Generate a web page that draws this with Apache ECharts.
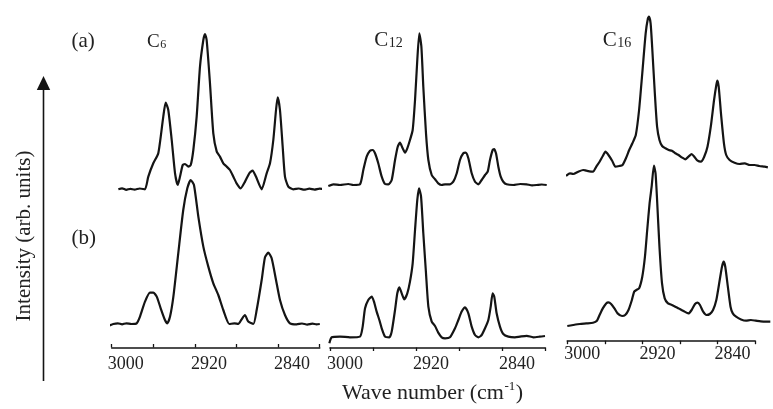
<!DOCTYPE html>
<html><head><meta charset="utf-8">
<script src="https://cdn.jsdelivr.net/npm/echarts@6/dist/echarts.min.js"></script>
<style>html,body{margin:0;padding:0;background:#fff}#c{width:773px;height:409px}</style>
</head><body><div id="c"></div>
<script>
// ---------- data ----------
const tickLabels = [3000, 2920, 2840];
const panelNames = [['C', '6'], ['C', '12'], ['C', '16']];
const rowNames = ['(a)', '(b)'];
const xTitle = ['Wave number (cm', '-1', ')'];
const yTitle = 'Intensity (arb. units)';

// [wave number, intensity]  (a) = upper trace, (b) = lower trace
const c6a = [[2993.6,0],[2990,1],[2986,-0.5],[2982,0.5],[2978,-0.3],[2973,0.8],[2968,0],[2964.8,12.7],[2960,26],[2955.2,36],[2950.4,72.7],[2948.1,86.7],[2945.6,79.3],[2942.3,49.3],[2939.1,16],[2936.5,4.3],[2934.3,12.7],[2931.7,24.3],[2929.5,25.3],[2926.3,22.7],[2924,24.3],[2921.5,39.3],[2918.3,72.7],[2915.1,122.7],[2911.9,149.3],[2910.3,155.3],[2908.7,149.3],[2905.5,106],[2902.3,56],[2899,37.7],[2895.9,32.7],[2892.7,26],[2889.4,22.7],[2886.3,19.3],[2883.1,12.7],[2879.9,6],[2876,1],[2871.8,7.7],[2867.7,16],[2864.5,18.7],[2861.3,12.7],[2855.8,0],[2851,16],[2847.8,26],[2844.6,49.3],[2842,79.3],[2840.4,92],[2838.2,79.3],[2835.6,42.7],[2833.4,12.7],[2830.2,2.7],[2825.4,0],[2820,0.8],[2815,-0.4],[2810,0.6],[2805,-0.3],[2800,0.7],[2796,0],[2793.3,0]];
const c6b = [[3003.3,-1.7],[2998.5,0.3],[2994,1],[2990,0],[2986,1],[2981,0.3],[2976,1],[2972.8,7.7],[2968,22.7],[2963.2,31.7],[2960,31.7],[2956.7,27.7],[2952.9,16],[2948.8,4.3],[2946.5,1],[2943.9,7.7],[2940.7,27.7],[2936,71],[2931.2,114.3],[2927.3,136],[2924,144.3],[2920.9,139.3],[2916.7,107.7],[2911.9,77.7],[2907.1,57.7],[2902.3,41],[2897.5,29.3],[2892.7,14.3],[2886.9,0.3],[2882,1],[2878.3,0.3],[2875.1,5],[2871.9,9.3],[2868.7,2.7],[2863.8,0.3],[2860.6,14.3],[2855.8,44.3],[2852.6,67],[2849.4,71.7],[2846.2,66],[2842,44.3],[2838.2,24.3],[2833.4,9.3],[2828.6,1],[2822.2,0],[2817,0.8],[2812,-0.3],[2807,0.6],[2803,0],[2799.9,0.3]];
const c12a = [[3001.6,-1],[2996.9,0.7],[2990.7,0],[2983,1],[2978.3,0],[2972.1,0.7],[2969,15],[2965.9,28.3],[2962.8,34.3],[2960.3,35],[2958.1,31.7],[2955.1,21.7],[2951.9,8.3],[2948.8,1],[2945.7,0.7],[2942.6,5],[2939.5,25],[2937,38.3],[2934.9,42.3],[2932.4,36.7],[2930.2,32.3],[2928.1,36.7],[2925.6,45],[2923.1,55],[2920.9,85],[2918.8,125],[2916.9,151.7],[2915,138.3],[2913.2,98.3],[2910.7,51.7],[2908.5,25],[2905.4,10],[2902.3,5.7],[2899.3,1.7],[2896.1,0],[2893,0.7],[2888.4,0.7],[2885.3,3.3],[2882.1,11.7],[2879.1,25],[2876,31.7],[2873.8,32.3],[2871.3,26.7],[2868.2,11.7],[2865.1,3.3],[2862,0.7],[2858.9,5],[2855.8,10],[2853.3,13.3],[2851.2,25],[2848.7,35],[2847.4,36],[2845.6,31.7],[2843.4,18.3],[2841.2,8.3],[2838.8,3.3],[2835.7,0.7],[2829.5,0],[2823,1],[2817.1,0.7],[2812,-0.3],[2807.8,0],[2803,0.5],[2798.4,0]];
const c12b = [[3000.6,-6],[2998.4,0],[2990.7,0.7],[2981.4,0],[2972.1,0.7],[2969.6,10.7],[2967.4,29],[2964.4,37.3],[2961.2,40.7],[2959.1,35.7],[2956.6,25.7],[2954.1,17.3],[2951.9,9],[2948.8,0.7],[2944.8,0],[2942.6,5.7],[2939.5,27.3],[2937.4,44],[2935.5,50],[2933.3,44],[2930.9,38],[2928.1,44],[2925.6,55.7],[2923.1,74],[2920.9,107.3],[2918.8,137.3],[2917.2,149],[2915.3,140.7],[2913.2,104],[2910.7,64],[2908.5,30.7],[2905.4,15.7],[2902.3,11.3],[2899.3,4.7],[2896.1,0],[2893,-1],[2888.4,0],[2883.7,9],[2880.6,17.3],[2877.5,25.7],[2874.4,30],[2871.3,24],[2868.2,10.7],[2865.1,2.3],[2862,0],[2858.9,2.3],[2855.8,9],[2852.7,17.3],[2850.5,30.7],[2848.7,44],[2847.2,40.7],[2845,24],[2841.9,10.7],[2838.8,3.3],[2834.1,0.7],[2828,0],[2823.3,0.7],[2817,1.5],[2810.9,0],[2805,0.6],[2800,1.3]];
const c16a = [[3001.2,-1],[2997.4,1.7],[2994.2,1],[2989.4,3.3],[2984.6,5],[2981.4,4.3],[2975,3.3],[2971.8,8.3],[2968.6,13.3],[2965.5,19],[2962.9,23.3],[2960,20],[2956.4,14.3],[2953.3,8.3],[2949.4,9],[2946.3,10],[2943,16.7],[2939.8,25],[2936.7,31.7],[2933.4,40],[2930.2,65],[2927.1,101.7],[2923.8,141.7],[2921.6,156.7],[2920.6,158.3],[2919,151.7],[2917.5,128.3],[2914.9,81.7],[2912.7,48.3],[2910.4,35],[2907.8,29],[2904.6,26.7],[2901.4,25],[2898.3,24.3],[2895,21.7],[2891.8,20],[2888.7,17.7],[2885.4,15.7],[2882.2,18.3],[2879.1,21],[2876.5,18.3],[2873.3,14.3],[2870.1,13.3],[2866.9,18.3],[2863.7,28.3],[2860.5,48.3],[2857.3,75],[2855.1,90],[2854.1,94.3],[2852.8,88.3],[2850.3,58.3],[2847.7,31.7],[2845.5,20],[2842.2,15],[2837.4,12.3],[2832.6,11],[2827.4,11.7],[2822.6,10],[2817.8,10],[2813.4,9],[2808.1,8.3],[2805,7.7]];
const c16b = [[3000,0.7],[2994.2,1.7],[2987.8,2.7],[2981.4,3.3],[2975,4],[2971.2,6],[2968.6,11.7],[2965.5,18.3],[2962.2,23.3],[2960,24.3],[2957.4,22.7],[2954.2,18.3],[2951.1,13.3],[2946.8,10.7],[2943.7,11.7],[2940.5,16.7],[2937.2,26.7],[2935,35],[2932.8,36.7],[2930.2,38.3],[2927.1,50],[2924.5,70],[2922.3,96.7],[2920,123.3],[2918,140],[2915.8,161],[2914.2,153.3],[2912.7,126.7],[2910.4,80],[2907.9,43.3],[2905.3,28.3],[2902.1,23.3],[2898.3,21.7],[2895,20],[2891.8,18.3],[2887,15.7],[2882.2,13.3],[2879.1,16.7],[2875.8,22.7],[2873.3,24],[2871,21.7],[2867.9,15],[2864.7,11.7],[2861.4,12.7],[2858.3,16.7],[2855.1,26.7],[2851.8,46.7],[2849.6,60],[2848,65],[2846.4,60],[2843.9,40],[2841.3,20],[2839.1,13.3],[2835.9,10],[2831.1,7.3],[2826.3,6],[2821.5,6.7],[2816.7,6],[2811.9,5.3],[2807.1,5],[2802.6,5]];

// ---------- layout ----------
const traces = [[c6a, c6b], [c12a, c12b], [c16a, c16b]];
const panels = [
  {left: 111.7, width: 208,   base: [189.3, 324.3], axisY: 347.5, tickInside: true,  labMargin: 8, labPad: 28},
  {left: 330,   width: 215,   base: [185,   337.3], axisY: 347.5, tickInside: false, labMargin: 8, labPad: 30},
  {left: 567.3, width: 208.4, base: [175,   326.7], axisY: 340.7, tickInside: false, labMargin: 5, labPad: 30}
];
const YMIN = -10, YMAX = 170, GH = 180;
const FONT = '"Liberation Serif","Times New Roman",serif';
const INK = '#141414';

const grid = [], xAxis = [], yAxis = [], series = [];
panels.forEach((p, pi) => {
  [0, 1].forEach(ti => {
    const gi = grid.length;
    grid.push({left: p.left, width: p.width, top: p.base[ti] - YMAX, height: GH});
    xAxis.push({type: 'value', gridIndex: gi, min: 2800, max: 3000, inverse: true, show: false});
    yAxis.push({type: 'value', gridIndex: gi, min: YMIN, max: YMAX, show: false});
    series.push({
      type: 'line', xAxisIndex: gi, yAxisIndex: gi, data: traces[pi][ti],
      showSymbol: false, clip: false, smooth: 0.2, silent: true,
      lineStyle: {color: INK, width: 2.2}
    });
  });
});
panels.forEach((p) => {
  const gi = grid.length;
  grid.push({left: p.left, width: p.width, top: p.axisY - 10, height: 10});
  xAxis.push({
    type: 'value', gridIndex: gi, min: 2800, max: 3000, inverse: true, interval: 40,
    position: 'bottom',
    axisLine: {show: true, lineStyle: {color: INK, width: 1.6}},
    axisTick: {show: true, inside: p.tickInside, length: 3.5, lineStyle: {color: INK, width: 1.3}},
    splitLine: {show: false},
    axisLabel: {
      show: true, margin: p.labMargin, color: '#222', fontFamily: FONT, fontSize: 18, lineHeight: 18,
      align: 'center', padding: [0, 0, 0, p.labPad], showMinLabel: true, showMaxLabel: true,
      formatter: v => tickLabels.includes(v) ? String(v) : ''
    }
  });
  yAxis.push({type: 'value', gridIndex: gi, min: 0, max: 1, show: false});
});

// ---------- text measuring ----------
const mctx = document.createElement('canvas').getContext('2d');
function tw(size, s) { mctx.font = size + 'px ' + FONT; return mctx.measureText(s).width; }

function txt(x, y, s, size, extra) {
  return Object.assign({
    type: 'text', x: x, y: y, silent: true,
    style: {text: s, fontFamily: FONT, fontSize: size, fill: '#222', align: 'left', verticalAlign: 'middle'}
  }, extra || {});
}

const graphic = [];
// vertical arrow
graphic.push({type: 'line', silent: true, shape: {x1: 43.5, y1: 88, x2: 43.5, y2: 381}, style: {stroke: INK, lineWidth: 1.6}});
graphic.push({type: 'polygon', silent: true, shape: {points: [[43.5, 76], [36.8, 90], [50.2, 90]]}, style: {fill: INK}});
// y title
graphic.push({type: 'text', x: 24.5, y: 236, rotation: Math.PI / 2, silent: true,
  style: {text: yTitle, fontFamily: FONT, fontSize: 21, fill: '#222', align: 'center', verticalAlign: 'middle'}});
// row labels
graphic.push(txt(71.5, 41.5, rowNames[0], 21));
graphic.push(txt(71.5, 238.5, rowNames[1], 21));
// panel names
const nameGeom = [
  {x: 147, y: 42.5, s1: 19, s2: 12, sy: 44.5},
  {x: 374.3, y: 40.8, s1: 21, s2: 14, sy: 43.5},
  {x: 602.7, y: 40.3, s1: 21, s2: 14, sy: 43}
];
panelNames.forEach((n, i) => {
  const g = nameGeom[i];
  graphic.push(txt(g.x, g.y, n[0], g.s1));
  graphic.push(txt(g.x + tw(g.s1, n[0]) + 0.5, g.sy, n[1], g.s2));
});
// x title
(function () {
  const x0 = 342, yMid = 393, fs = 22;
  const w1 = tw(fs, xTitle[0]);
  const w2 = tw(13, xTitle[1]);
  graphic.push(txt(x0, yMid, xTitle[0], fs));
  graphic.push(txt(x0 + w1 + 0.5, yMid - 6, xTitle[1], 13));
  graphic.push(txt(x0 + w1 + w2 + 1, yMid, xTitle[2], fs));
})();

const chart = echarts.init(document.getElementById('c'), null, {renderer: 'canvas'});
chart.setOption({
  backgroundColor: '#fff',
  animation: false,
  grid: grid, xAxis: xAxis, yAxis: yAxis, series: series,
  graphic: graphic
});
</script>
</body></html>
